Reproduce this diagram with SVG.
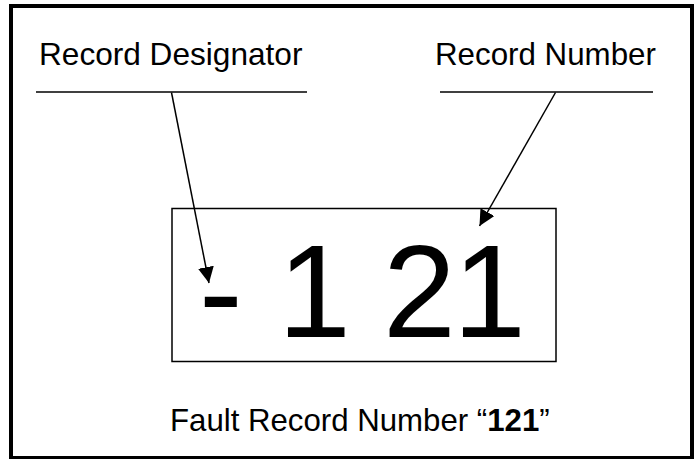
<svg xmlns="http://www.w3.org/2000/svg" width="694" height="459" viewBox="0 0 694 459">
<style>
.t{font-family:"Liberation Sans",Arial,sans-serif;fill:#000}
.ln{stroke:#000;stroke-width:1.5;fill:none}
</style>
<defs>
<marker id="ah" viewBox="0 0 10 10" refX="10" refY="5" markerWidth="16" markerHeight="16" markerUnits="userSpaceOnUse" orient="auto">
<path d="M0,0 L10,5 L0,10 z" fill="#000"/>
</marker>
</defs>
<rect x="11" y="6" width="681" height="452" fill="#fff" stroke="#000" stroke-width="4"/>
<g id="designator-label">
<text class="t" x="39" y="65" font-size="31.6">Record Designator</text>
<line class="ln" x1="36" y1="92" x2="307" y2="92"/>
</g>
<g id="number-label">
<text class="t" x="435" y="65" font-size="31.3">Record Number</text>
<line class="ln" x1="440" y1="92" x2="653" y2="92"/>
</g>
<g id="display">
<rect class="ln" x="172" y="208.5" width="384" height="153"/>
<text class="t" y="337" font-size="131"><tspan x="199">-</tspan> <tspan x="278">1</tspan> <tspan x="383">2</tspan><tspan x="453">1</tspan></text>
</g>
<g id="caption">
<text class="t" x="170" y="431" font-size="31.2">Fault Record Number “<tspan font-weight="bold">121</tspan>”</text>
</g>
<g id="connectors">
<line class="ln" x1="171.5" y1="92.5" x2="209" y2="283" marker-end="url(#ah)"/>
<line class="ln" x1="555.5" y1="92.5" x2="479.5" y2="226" marker-end="url(#ah)"/>
</g>
</svg>
